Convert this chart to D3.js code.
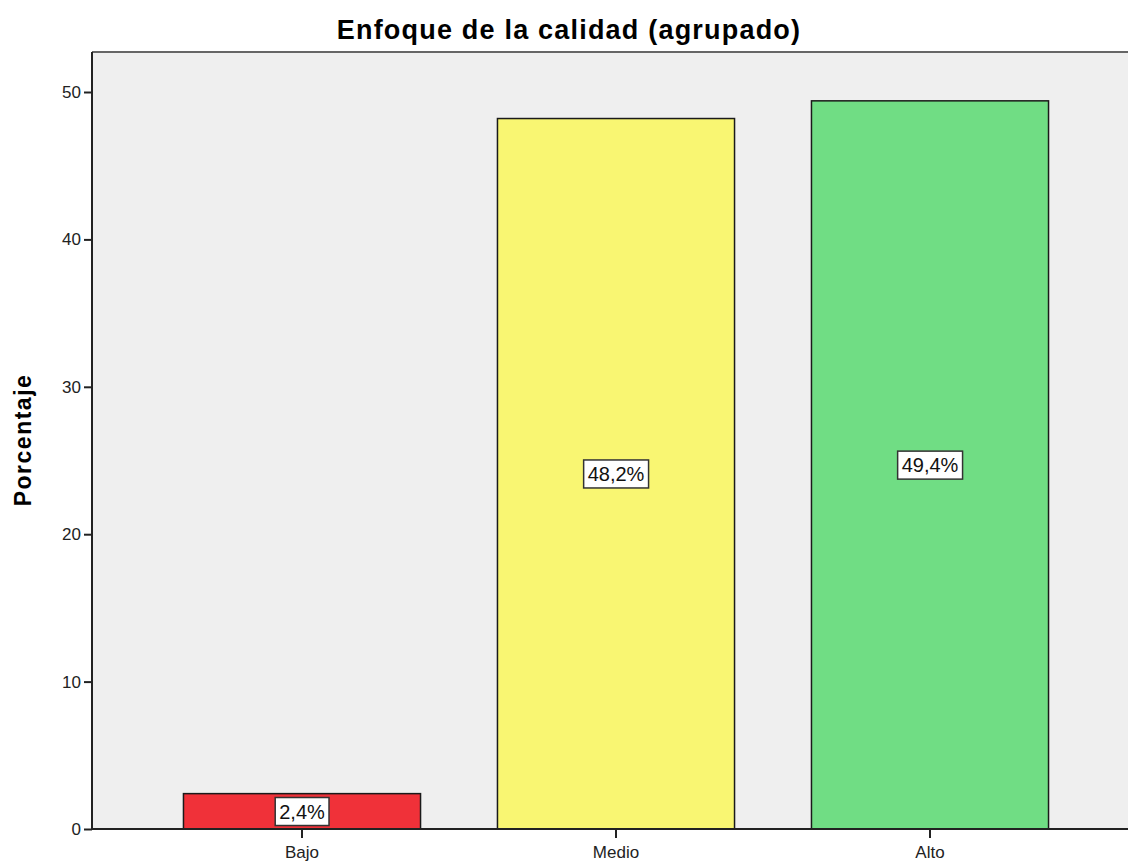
<!DOCTYPE html>
<html>
<head>
<meta charset="utf-8">
<script src="https://cdn.jsdelivr.net/npm/d3@7/dist/d3.min.js"></script>
<style>
  body { margin: 0; background: #fff; }
  svg { display: block; font-family: 'Liberation Sans', Arial, sans-serif; }
</style>
</head>
<body>
<script>
var categories = ['Bajo', 'Medio', 'Alto']
var percents = [2.4, 48.2, 49.4]
var barColors = ['#f03139', '#f9f672', '#70dd84']
var yTicks = [0, 10, 20, 30, 40, 50]

var W = 1128
var H = 862
var plot = {left: 92, top: 52, bottom: 829, right: 1140}

var svg = d3.select('body').append('svg')
  .attr('width', W)
  .attr('height', H)

var y = d3.scaleLinear()
  .domain([0, 50])
  .range([plot.bottom, 92])

var x = d3.scaleBand()
  .domain(categories)
  .range([145, 1087])
  .paddingInner(0.245)
  .paddingOuter(0.1225)

// plot background
svg.append('rect')
  .attr('x', plot.left)
  .attr('y', plot.top)
  .attr('width', plot.right - plot.left)
  .attr('height', plot.bottom - plot.top)
  .style('fill', '#efefef')

svg.append('line')
  .attr('x1', plot.left).attr('x2', plot.right)
  .attr('y1', plot.top).attr('y2', plot.top)
  .style('stroke', '#666').style('stroke-width', 2)

// bars
svg.selectAll('.bar')
  .data(percents)
  .enter().append('rect')
  .attr('class', 'bar')
  .attr('x', function (d, i) { return x(categories[i]) })
  .attr('y', function (d) { return y(d) })
  .attr('width', x.bandwidth())
  .attr('height', function (d) { return y(0) - y(d) })
  .style('fill', function (d, i) { return barColors[i] })
  .style('stroke', '#1a1a1a')
  .style('stroke-width', 1.5)

// axes
var yAxis = d3.axisLeft(y)
  .tickValues(yTicks)
  .tickSize(8)
  .tickPadding(3)
  .tickFormat(d3.format('d'))

var gy = svg.append('g')
  .attr('transform', 'translate(' + plot.left + ',0)')
  .call(yAxis)
gy.select('.domain').attr('d', 'M0,' + plot.top + 'V' + plot.bottom)

var xAxis = d3.axisBottom(x)
  .tickSize(9)
  .tickPadding(8)

var gx = svg.append('g')
  .attr('transform', 'translate(0,' + plot.bottom + ')')
  .call(xAxis)
gx.select('.domain').attr('d', 'M' + plot.left + ',0H' + plot.right)

svg.selectAll('.domain').style('stroke', '#222').style('stroke-width', 2)
svg.selectAll('.tick line').style('stroke', '#222').style('stroke-width', 2)
svg.selectAll('.tick text')
  .style('font-size', '17px')
  .style('fill', '#222')
  .style('font-family', "'Liberation Sans', Arial, sans-serif")

// value labels
var labels = svg.selectAll('.lbl')
  .data(percents)
  .enter().append('g')
  .attr('class', 'lbl')
  .attr('transform', function (d, i) {
    return 'translate(' + (x(categories[i]) + x.bandwidth() / 2) + ',' + y(d / 2) + ')'
  })

labels.append('text')
  .attr('text-anchor', 'middle')
  .attr('dy', '0.36em')
  .style('font-size', '20px')
  .style('fill', '#111')
  .text(function (d) { return d3.format('.1f')(d).replace('.', ',') + '%' })

labels.each(function () {
  var g = d3.select(this)
  var b = g.select('text').node().getBBox()
  g.insert('rect', 'text')
    .attr('x', b.x - 4)
    .attr('y', b.y - 3)
    .attr('width', b.width + 8)
    .attr('height', b.height + 6)
    .style('fill', '#fff')
    .style('stroke', '#333')
    .style('stroke-width', 1.5)
})

// title and axis label
svg.append('text')
  .attr('x', 569)
  .attr('y', 39)
  .attr('text-anchor', 'middle')
  .style('font-size', '27px')
  .style('font-weight', 'bold')
  .style('letter-spacing', '1.2px')
  .text('Enfoque de la calidad (agrupado)')

svg.append('text')
  .attr('transform', 'translate(31,440) rotate(-90)')
  .attr('text-anchor', 'middle')
  .style('font-size', '23px')
  .style('font-weight', 'bold')
  .style('letter-spacing', '1.5px')
  .text('Porcentaje')
</script>
</body>
</html>
